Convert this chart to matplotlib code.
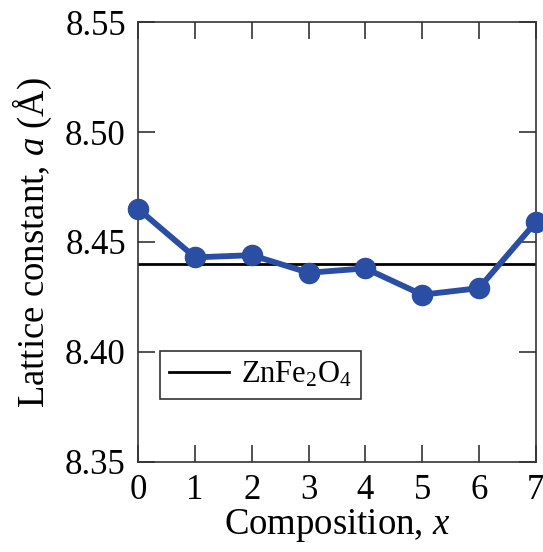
# Lattice constant vs. composition
import numpy as np
import matplotlib
matplotlib.use("Agg")
import matplotlib.pyplot as plt

plt.rcParams['font.family'] = ['Liberation Serif', 'DejaVu Serif']
plt.rcParams['mathtext.fontset'] = 'custom'
plt.rcParams['mathtext.rm'] = 'Liberation Serif'
plt.rcParams['mathtext.it'] = 'Liberation Serif:italic'

# Data
composition = [0, 1, 2, 3, 4, 5, 6, 7]
lattice_a = [8.465, 8.443, 8.444, 8.436, 8.438, 8.426, 8.429, 8.459]
znfe2o4_a = 8.440

x_ticks = [0, 1, 2, 3, 4, 5, 6, 7]
y_ticks = [8.35, 8.40, 8.45, 8.50, 8.55]
y_tick_labels = ["8.35", "8.40", "8.45", "8.50", "8.55"]

fig = plt.figure(figsize=(5.43, 5.52), dpi=100)
ax = fig.add_axes([0.2547, 0.1636, 0.7319, 0.796])

ax.axhline(znfe2o4_a, color="black", lw=2.0, label=r"ZnFe$_2$O$_4$", zorder=2)
ax.plot(composition, lattice_a, color="#2a4ea3", lw=4.2, marker="o",
        markersize=14.5, clip_on=False, zorder=3)

ax.set_xlim(0, 7)
ax.set_ylim(8.35, 8.55)
ax.set_xticks(x_ticks)
ax.set_yticks(y_ticks)
ax.set_yticklabels(y_tick_labels)

ax.tick_params(direction="in", length=12, width=1.2, labelsize=25,
               top=True, right=True, color="#333333")
ax.tick_params(axis="x", pad=9)
ax.tick_params(axis="y", pad=9)
for s in ax.spines.values():
    s.set_linewidth(1.2)
    s.set_color("#333333")

ax.set_xlabel(r"Composition, $x$", fontsize=26.5, labelpad=0)
ax.set_ylabel(r"Lattice constant, $a$ (Å)", fontsize=26.5, labelpad=8)

leg = ax.legend(loc="lower left", bbox_to_anchor=(0.055, 0.143), fontsize=22,
                frameon=True, fancybox=False, edgecolor="black",
                borderaxespad=0, handlelength=1.95, borderpad=0.3,
                handletextpad=0.4)
leg.get_frame().set_linewidth(1.2)

fig.savefig("out.png", dpi=100)
